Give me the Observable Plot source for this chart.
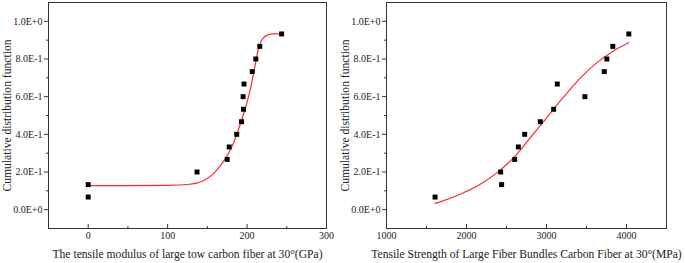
<!DOCTYPE html>
<html><head><meta charset="utf-8">
<script src="https://cdn.jsdelivr.net/npm/d3@7"></script>
<script src="https://cdn.jsdelivr.net/npm/@observablehq/plot@0.6"></script>
<style>
body{margin:0;background:#fff;}
#wrap{display:flex;width:685px;height:263px;background:#fff;}
</style></head><body><div id="wrap"></div>
<script>
// Cumulative distribution values (shared by both panels)
const cdf = [0.067, 0.133, 0.2, 0.267, 0.333, 0.4, 0.467, 0.533, 0.6, 0.667, 0.733, 0.8, 0.867, 0.933];
// Left panel: tensile modulus (GPa)
const modulus = [0, 0, 137, 175, 177.5, 187, 193, 195.5, 195, 196.2, 206.5, 211, 216, 243.5];
const modFitX = [0, 50, 100, 128, 145, 157.4, 168, 176.2, 182.5, 188.7, 195, 200.5, 205.5, 209.6, 213.8, 219.3, 226.3, 234.7, 243.5];
const modFitY = [0.128, 0.128, 0.129, 0.135, 0.154, 0.19, 0.243, 0.296, 0.349, 0.42, 0.5, 0.579, 0.667, 0.756, 0.844, 0.906, 0.928, 0.933, 0.934];
// Right panel: tensile strength (MPa)
const strength = [1607, 2439, 2427, 2602, 2648, 2727, 2922, 3089, 3480, 3135, 3722, 3754, 3829, 4029];
const strFitX = [1607, 1678, 1928, 2177, 2386, 2593, 2801, 3010, 3217, 3425, 3634, 3842, 4029];
const strFitY = [0.033, 0.0425, 0.083, 0.136, 0.198, 0.278, 0.384, 0.492, 0.600, 0.700, 0.782, 0.844, 0.888];
// Axes
const yTicks = [0, 0.2, 0.4, 0.6, 0.8, 1.0];
const yTickLabels = ["0.0E+0", "2.0E-1", "4.0E-1", "6.0E-1", "8.0E-1", "1.0E+0"];
const yMinor = [0.1, 0.3, 0.5, 0.7, 0.9];
const modTicks = [0, 100, 200, 300];
const modMinor = [50, 150, 250];
const strTicks = [1000, 2000, 3000, 4000];
const strMinor = [1500, 2500, 3500];
const yTitle = "Cumulative distribution function";
const modTitle = "The tensile modulus of large tow carbon fiber at 30°(GPa)";
const strTitle = "Tensile Strength of Large Fiber Bundles Carbon Fiber at 30°(MPa)";

const FONT = "'Liberation Serif', 'Times New Roman', serif";
const AX = "#333";

function panel({width, marginLeft, marginRight, xDomain, xTicks, xMinor, xTitle, xs, fx, fy}) {
  const pts = cdf.map((y, i) => ({x: xs[i], y}));
  const fit = fx.map((x, i) => ({x, y: fy[i]}));
  return Plot.plot({
    width, height: 263,
    marginLeft, marginRight, marginTop: 2, marginBottom: 35,
    style: {background: "#fff", fontFamily: FONT, fontSize: "10px", color: "#222", overflow: "visible"},
    x: {domain: xDomain},
    y: {domain: [-0.1, 1.1]},
    marks: [
      Plot.frame({stroke: AX, strokeWidth: 1}),
      Plot.axisY({ticks: yTicks, tickSize: 4, tickPadding: 2, tickFormat: (d, i) => yTickLabels[i], label: null, stroke: AX}),
      Plot.axisY({ticks: yMinor, tickSize: 2, tickFormat: () => "", label: null, stroke: AX}),
      Plot.axisX({ticks: xTicks, tickSize: -4, tickPadding: 7, tickFormat: d => String(d), label: null, stroke: AX}),
      Plot.axisX({ticks: xMinor, tickSize: -2, tickFormat: () => "", label: null, stroke: AX}),
      Plot.line(fit, {x: "x", y: "y", stroke: "#ff2b2b", strokeWidth: 1.2, curve: "monotone-x"}),
      Plot.dot(pts, {x: "x", y: "y", symbol: "square", r: 2.8, fill: "#000", stroke: "none"}),
      Plot.text([yTitle], {frameAnchor: "left", textAnchor: "middle", rotate: -90, dx: -41, text: d => d, fontSize: 11.6, fill: "#222"}),
      Plot.text([xTitle], {frameAnchor: "bottom", textAnchor: "middle", dy: 26, lineAnchor: "middle", text: d => d, fontSize: 11.6, fill: "#222"})
    ]
  });
}

const wrap = document.getElementById("wrap");
wrap.append(panel({width: 340, marginLeft: 48, marginRight: 14, xDomain: [-50, 300], xTicks: modTicks, xMinor: modMinor, xTitle: modTitle, xs: modulus, fx: modFitX, fy: modFitY}));
wrap.append(panel({width: 345, marginLeft: 46, marginRight: 19, xDomain: [1000, 4500], xTicks: strTicks, xMinor: strMinor, xTitle: strTitle, xs: strength, fx: strFitX, fy: strFitY}));
</script></body></html>
